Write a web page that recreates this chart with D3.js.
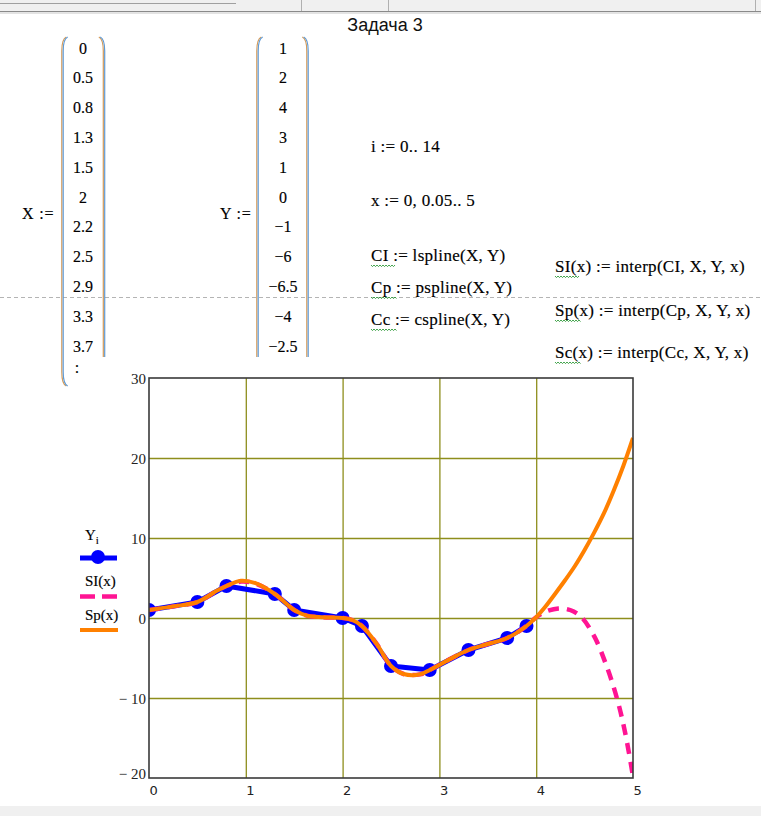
<!DOCTYPE html>
<html>
<head>
<meta charset="utf-8">
<script src="https://cdn.jsdelivr.net/npm/d3@7"></script>
<style>
  html, body { margin: 0; padding: 0; background: #fff; }
  svg { display: block; }
  .serif { font-family: "Liberation Serif", "Times New Roman", serif; fill: #000; stroke: #000; stroke-width: 0.15px; }
</style>
</head>
<body>
<svg id="sheet" width="761" height="816"></svg>
<script>
// Source table of the worksheet
const X = [0, 0.5, 0.8, 1.3, 1.5, 2, 2.2, 2.5, 2.9, 3.3, 3.7, 3.9];
const Y = [1, 2, 4, 3, 1, 0, -1, -6, -6.5, -4, -2.5, -1];

// Entries listed in the matrix display (the rest is elided by ":")
const xShown = ["0", "0.5", "0.8", "1.3", "1.5", "2", "2.2", "2.5", "2.9", "3.3", "3.7"];
const yShown = ["1", "2", "4", "3", "1", "0", "\u22121", "\u22126", "\u22126.5", "\u22124", "\u22122.5"];

// Linear-end spline SI(x), sampled along x
const slX = [0, 0.25, 0.5, 0.7, 0.8, 0.95, 1.1, 1.3, 1.5, 1.63, 1.8, 2.0, 2.1, 2.2, 2.35, 2.5, 2.63, 2.8, 2.9, 3.1, 3.3, 3.5, 3.7, 3.9, 4.0, 4.1, 4.23, 4.35, 4.46, 4.6, 4.73, 4.84, 4.92, 5.0];
const slY = [1, 1.45, 2, 3.4, 4, 4.55, 4.3, 3, 1, 0.3, 0.1, 0, -0.25, -1, -3.2, -6, -7, -7.05, -6.5, -5.2, -4, -3.25, -2.5, -1, 0.1, 0.8, 1.2, 1.0, 0.2, -2.3, -6.1, -10.3, -14.4, -19.8];

// Parabolic-end spline Sp(x), sampled along x
const spX = [0, 0.25, 0.5, 0.7, 0.8, 0.95, 1.1, 1.3, 1.5, 1.63, 1.8, 2.0, 2.1, 2.2, 2.35, 2.5, 2.63, 2.8, 2.9, 3.1, 3.3, 3.5, 3.7, 3.9, 4.0, 4.1, 4.2, 4.3, 4.4, 4.5, 4.6, 4.7, 4.8, 4.9, 5.0];
const spY = [1, 1.45, 2, 3.4, 4, 4.65, 4.35, 3, 1, 0.3, 0.1, 0, -0.25, -1, -3.2, -6, -7, -7.05, -6.5, -5.2, -4, -3.25, -2.5, -1, 0.1, 1.5, 3.1, 4.75, 6.5, 8.5, 10.7, 13.1, 15.9, 19.0, 22.5];

// Axis ticks
const xTicks = [0, 1, 2, 3, 4, 5];
const yTicks = [-20, -10, 0, 10, 20, 30];

const svg = d3.select("#sheet");

// ---- window chrome ----
svg.append("rect").attr("x", 0).attr("y", 0).attr("width", 761).attr("height", 11).attr("fill", "#f0f0f0");
svg.append("line").attr("x1", 0).attr("x2", 236).attr("y1", 3.5).attr("y2", 3.5).attr("stroke", "#a0a0a0");
svg.append("line").attr("x1", 0).attr("x2", 761).attr("y1", 11.5).attr("y2", 11.5).attr("stroke", "#8a8a8a");
svg.append("line").attr("x1", 0).attr("x2", 761).attr("y1", 13).attr("y2", 13).attr("stroke", "#c8c8c8");
[301.5, 388.5, 755.5].forEach(v =>
  svg.append("line").attr("x1", v).attr("x2", v).attr("y1", 0).attr("y2", 11).attr("stroke", "#b0b0b0"));
svg.append("rect").attr("x", 0).attr("y", 806).attr("width", 761).attr("height", 10).attr("fill", "#f0f0f0");

// Title
svg.append("text").attr("x", 385).attr("y", 31).attr("text-anchor", "middle")
  .style("font-family", "'Liberation Sans Narrow', 'Liberation Sans', Arial, sans-serif")
  .style("font-size", "18px").attr("fill", "#111").text("Задача 3");

// Page break
svg.append("line").attr("x1", 0).attr("x2", 761).attr("y1", 297.5).attr("y2", 297.5)
  .attr("stroke", "#b4b4b4").attr("stroke-dasharray", "4,3");

// ---- matrices ----
function bracket(x0, top, bottom, side, closeBottom) {
  // side = -1 for "(" , +1 for ")"
  const bulge = 4.5 * side;
  const p = d3.path();
  p.moveTo(x0, top);
  p.quadraticCurveTo(x0 + bulge, top + 2, x0 + bulge, top + 14);
  if (closeBottom) {
    p.lineTo(x0 + bulge, bottom - 14);
    p.quadraticCurveTo(x0 + bulge, bottom - 2, x0, bottom);
  } else {
    p.lineTo(x0 + bulge, bottom);
  }
  const s = p.toString();
  svg.append("path").attr("d", s).attr("fill", "none").attr("stroke", "#d49a58").attr("stroke-width", 1.2)
    .attr("transform", "translate(-0.7,0)");
  svg.append("path").attr("d", s).attr("fill", "none").attr("stroke", "#5e9ad6").attr("stroke-width", 1.2)
    .attr("transform", "translate(0.7,0)");
}

const rowY = d3.scaleLinear().domain([0, 1]).range([48, 77.8]);

svg.append("text").attr("class", "serif").attr("x", 22).attr("y", 219).style("font-size", "16px")
  .style("letter-spacing", "0.8px").text("X :=");
bracket(67, 37, 386, -1, true);
bracket(99.5, 37, 357, 1, false);
svg.selectAll(".xv").data(xShown).join("text").attr("class", "serif xv")
  .attr("x", 83).attr("y", (d, i) => rowY(i) + 5.5).attr("text-anchor", "middle")
  .style("font-size", "16px").text(d => d);
svg.append("text").attr("class", "serif").attr("x", 77).attr("y", 373).attr("text-anchor", "middle")
  .style("font-size", "16px").text(":");

svg.append("text").attr("class", "serif").attr("x", 220).attr("y", 219).style("font-size", "16px")
  .style("letter-spacing", "0.8px").text("Y :=");
bracket(262, 37, 357, -1, false);
bracket(303, 37, 357, 1, false);
svg.selectAll(".yv").data(yShown).join("text").attr("class", "serif yv")
  .attr("x", 283).attr("y", (d, i) => rowY(i) + 5.5).attr("text-anchor", "middle")
  .style("font-size", "16px").text(d => d);

// ---- definitions ----
const defs = [
  { x: 371, y: 152, t: "i := 0.. 14" },
  { x: 371, y: 206, t: "x := 0, 0.05.. 5" },
  { x: 371, y: 261, t: "CI := lspline(X, Y)", u: 24 },
  { x: 371, y: 293, t: "Cp := pspline(X, Y)", u: 26 },
  { x: 371, y: 325, t: "Cc := cspline(X, Y)", u: 26 },
  { x: 555, y: 272, t: "SI(x) := interp(CI, X, Y, x)", u: 24 },
  { x: 555, y: 316, t: "Sp(x) := interp(Cp, X, Y, x)", u: 26 },
  { x: 555, y: 358, t: "Sc(x) := interp(Cc, X, Y, x)", u: 26 }
];
svg.selectAll(".def").data(defs).join("text").attr("class", "serif def")
  .attr("x", d => d.x).attr("y", d => d.y).style("font-size", "17px")
  .style("letter-spacing", "0.3px").text(d => d.t);
// wavy underline under user-defined names
defs.filter(d => d.u).forEach(d => {
  const pts = [];
  for (let k = 0; k <= d.u; k += 1.5) pts.push([d.x + k, d.y + 4 + ((k / 1.5) % 2 ? 1.6 : 0)]);
  svg.append("path").attr("d", d3.line()(pts)).attr("fill", "none")
    .attr("stroke", "#2f9a3a").attr("stroke-width", 0.9);
});

// ---- plot ----
const x = d3.scaleLinear().domain([0, 5]).range([149, 633]);
const y = d3.scaleLinear().domain([-20, 30]).range([778, 378]);

const gridColor = "#8e8e1c";
const plot = svg.append("g");

// grid
plot.append("g").attr("transform", `translate(0,${y(-20)})`)
  .call(d3.axisBottom(x).tickValues([1, 2, 3, 4]).tickSize(-(y(-20) - y(30))).tickFormat(""))
  .call(g => g.select(".domain").remove())
  .call(g => g.selectAll("line").attr("stroke", gridColor).attr("stroke-width", 1.3));
plot.append("g").attr("transform", `translate(${x(0)},0)`)
  .call(d3.axisLeft(y).tickValues([-10, 0, 10, 20]).tickSize(-(x(5) - x(0))).tickFormat(""))
  .call(g => g.select(".domain").remove())
  .call(g => g.selectAll("line").attr("stroke", gridColor).attr("stroke-width", 1.3));

// tick labels
plot.append("g").attr("transform", `translate(${x(0)},0)`)
  .call(d3.axisLeft(y).tickValues(yTicks).tickSize(0).tickPadding(3)
    .tickFormat(d => d < 0 ? "\u2212 " + Math.abs(d) : String(d)))
  .call(g => g.select(".domain").remove())
  .call(g => g.selectAll("text")
    .style("font-family", "'Liberation Serif', 'Times New Roman', serif")
    .style("font-size", "15px").attr("fill", "#222")
    .attr("dy", d => d === -20 ? "0.05em" : "0.38em"));
plot.append("g").attr("transform", `translate(0,${y(-20)})`)
  .call(d3.axisBottom(x).tickValues(xTicks).tickSize(0).tickPadding(8).tickFormat(d3.format("d")))
  .call(g => g.select(".domain").remove())
  .call(g => g.selectAll("text").attr("text-anchor", "start")
    .style("font-family", "'DejaVu Sans', Tahoma, sans-serif")
    .style("font-size", "13px").attr("fill", "#222"));

// clip region
svg.append("clipPath").attr("id", "plotClip").append("rect")
  .attr("x", x(0)).attr("y", y(30)).attr("width", x(5) - x(0)).attr("height", y(-20) - y(30));
const marks = plot.append("g").attr("clip-path", "url(#plotClip)");

// Y_i: blue points joined by a thick line
const pts = X.map((v, i) => [v, Y[i]]);
marks.append("path").datum(pts)
  .attr("d", d3.line().x(d => x(d[0])).y(d => y(d[1])))
  .attr("fill", "none").attr("stroke", "#0000ff").attr("stroke-width", 5).attr("stroke-linejoin", "round");
marks.selectAll(".dot").data(pts).join("circle").attr("class", "dot")
  .attr("cx", d => x(d[0])).attr("cy", d => y(d[1])).attr("r", 7).attr("fill", "#0000ff");

// SI(x): magenta dashed
const curve = d3.line().x(d => x(d[0])).y(d => y(d[1])).curve(d3.curveCatmullRom.alpha(0.5));
marks.append("path").datum(slX.map((v, i) => [v, slY[i]]))
  .attr("d", curve).attr("fill", "none").attr("stroke", "#ff1493").attr("stroke-width", 4.5)
  .attr("stroke-dasharray", "11,8");

// Sp(x): orange solid
marks.append("path").datum(spX.map((v, i) => [v, spY[i]]))
  .attr("d", curve).attr("fill", "none").attr("stroke", "#ff8000").attr("stroke-width", 4);

// frame
plot.append("rect").attr("x", x(0)).attr("y", y(30)).attr("width", x(5) - x(0)).attr("height", y(-20) - y(30))
  .attr("fill", "none").attr("stroke", "#3a3a3a").attr("stroke-width", 1.6);

// ---- legend ----
const lg = svg.append("g");
const yLab = lg.append("text").attr("class", "serif").attr("x", 85).attr("y", 540).style("font-size", "15px");
yLab.append("tspan").text("Y");
yLab.append("tspan").attr("dy", 4).style("font-size", "11px").text("i");
lg.append("line").attr("x1", 80).attr("x2", 117).attr("y1", 558).attr("y2", 558)
  .attr("stroke", "#0000ff").attr("stroke-width", 5);
lg.append("circle").attr("cx", 98).attr("cy", 557).attr("r", 7).attr("fill", "#0000ff");

lg.append("text").attr("class", "serif").attr("x", 85).attr("y", 586).style("font-size", "15px").text("SI(x)");
lg.append("line").attr("x1", 80).attr("x2", 117).attr("y1", 596.5).attr("y2", 596.5)
  .attr("stroke", "#ff1493").attr("stroke-width", 4.5).attr("stroke-dasharray", "15,7");

lg.append("text").attr("class", "serif").attr("x", 85).attr("y", 620).style("font-size", "15px").text("Sp(x)");
lg.append("line").attr("x1", 80).attr("x2", 118).attr("y1", 630).attr("y2", 630)
  .attr("stroke", "#ff8000").attr("stroke-width", 4);
</script>
</body>
</html>
